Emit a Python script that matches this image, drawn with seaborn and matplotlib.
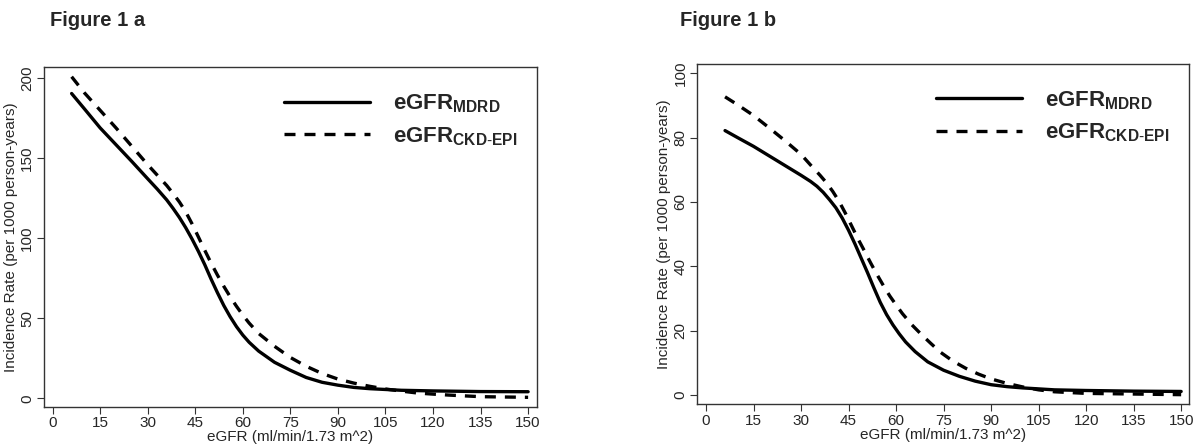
import numpy as np
import pandas as pd
import seaborn as sns
import matplotlib.pyplot as plt

# Figure 1 a
egfr_a_mdrd = [6, 10, 15, 20, 25, 30, 33, 36, 38, 40, 42, 44, 46, 48, 50, 52, 54, 56, 58, 60,
               62, 65, 70, 75, 80, 85, 90, 95, 100, 110, 120, 135, 150]
rate_a_mdrd = [190.5, 181, 169, 158.5, 148, 137.2, 130.8, 124, 118.7, 113, 106.6, 99.5, 91.8, 83.5, 74.5, 66, 58, 51, 44.8, 39.5,
               35, 29.5, 22.5, 17.5, 13, 10, 8.2, 6.8, 6.0, 5.0, 4.6, 4.2, 4.1]

egfr_a_ckd = [6, 10, 15, 20, 25, 30, 33, 36, 38, 40, 42, 44, 46, 48, 50, 52, 54, 56, 58, 60,
              62, 65, 70, 75, 80, 85, 90, 95, 100, 105, 110, 115, 120, 125, 135, 150]
rate_a_ckd = [201, 191, 180, 169, 157.5, 146, 139.5, 133, 128, 122.7, 116.5, 109, 100.8, 92.5, 84.5, 77, 70, 63.5, 57.5, 52,
              47, 40.5, 32.5, 25.5, 20, 15.5, 12, 9.5, 7.5, 5.8, 4.5, 3.3, 2.6, 2.0, 1.0, 0.6]

# Figure 1 b
egfr_b_mdrd = [6, 10, 15, 20, 25, 30, 33, 35, 37, 39, 41, 43, 45, 47, 49, 51, 53, 55, 57, 59,
               61, 63, 66, 70, 75, 80, 85, 90, 95, 100, 110, 120, 135, 150]
rate_b_mdrd = [82.2, 80, 77.3, 74.3, 71.3, 68.3, 66.4, 64.9, 63.0, 60.7, 58.2, 55.0, 51.2, 47.0, 42.5, 38.0, 33.3, 28.8, 25.0, 21.8,
               19.0, 16.5, 13.5, 10.3, 7.7, 5.8, 4.3, 3.2, 2.6, 2.2, 1.6, 1.4, 1.2, 1.1]

egfr_b_ckd = [6, 10, 15, 20, 25, 30, 33, 36, 38, 40, 42, 44, 46, 48, 50, 52, 54, 56, 58, 60,
              62, 65, 68, 71, 74, 78, 82, 86, 90, 95, 100, 105, 110, 120, 135, 150]
rate_b_ckd = [92.7, 90.2, 86.9, 83, 79, 74.8, 71.5, 68.3, 66.0, 63.3, 60.2, 56.5, 52.5, 48.5, 44.8, 41.0, 37.4, 34.0, 30.8, 28.0,
              25.3, 21.8, 18.8, 16.0, 13.3, 10.5, 8.3, 6.5, 5.0, 3.6, 2.5, 1.6, 1.0, 0.5, 0.3, 0.1]

x_ticks = [0, 15, 30, 45, 60, 75, 90, 105, 120, 135, 150]
y_ticks_a = [0, 50, 100, 150, 200]
y_ticks_b = [0, 20, 40, 60, 80, 100]

sns.set_style("ticks")
plt.rcParams['font.family'] = ['Liberation Sans', 'DejaVu Sans']
plt.rcParams['mathtext.fontset'] = 'custom'
plt.rcParams['mathtext.rm'] = 'Liberation Sans'
plt.rcParams['mathtext.bf'] = 'Liberation Sans:bold'

lab_mdrd = r'$\mathbf{eGFR}_{\mathbf{MDRD}}$'
lab_ckd = r'$\mathbf{eGFR}_{\mathbf{CKD}\text{-}\mathbf{EPI}}$'


def make_df(x1, y1, x2, y2):
    d1 = pd.DataFrame({'eGFR': x1, 'rate': y1, 'eq': 'MDRD'})
    d2 = pd.DataFrame({'eGFR': x2, 'rate': y2, 'eq': 'CKD-EPI'})
    return pd.concat([d1, d2], ignore_index=True)


df_a = make_df(egfr_a_mdrd, rate_a_mdrd, egfr_a_ckd, rate_a_ckd)
df_b = make_df(egfr_b_mdrd, rate_b_mdrd, egfr_b_ckd, rate_b_ckd)

fig = plt.figure(figsize=(12, 4.47), dpi=100)
ax_a = fig.add_axes([0.0367, 0.0902, 0.4108, 0.7593])
ax_b = fig.add_axes([0.5811, 0.0962, 0.4098, 0.7606])

panels = [
    (ax_a, df_a, y_ticks_a, (-5.25, 206.9), (-2.7, 152.8), "Figure 1 a", 0.042),
    (ax_b, df_b, y_ticks_b, (-2.8, 102.9), (-2.75, 152.5), "Figure 1 b", 0.567),
]

for ax, df, yt, ylim, xlim, title, tx in panels:
    sns.lineplot(
        data=df, x='eGFR', y='rate', style='eq',
        style_order=['MDRD', 'CKD-EPI'],
        dashes={'MDRD': '', 'CKD-EPI': (3.3, 2.7)},
        color='black', linewidth=2.4, ax=ax, legend=False, sort=False
    )
    ax.set_xlim(*xlim)
    ax.set_ylim(*ylim)
    ax.set_xticks(x_ticks)
    ax.set_yticks(yt)
    ax.tick_params(axis='both', direction='out', length=5, width=0.8,
                   color='#333333', labelsize=11, pad=2)
    ax.tick_params(axis='y', labelrotation=90)
    for lbl in ax.get_yticklabels():
        lbl.set_va('center')
    for sp in ax.spines.values():
        sp.set_visible(True)
        sp.set_color('#333333')
        sp.set_linewidth(1.0)
    ax.set_xlabel("eGFR (ml/min/1.73 m^2)", fontsize=11, labelpad=0)
    ax.set_ylabel("Incidence Rate (per 1000 person-years)", fontsize=11, labelpad=2)

    # legend keys drawn as long line segments, like the original
    h1, = ax.plot([], [], color='black', lw=2.4)
    h2, = ax.plot([], [], color='black', lw=2.4, dashes=(3.3, 2.7))
    ax.legend([h1, h2], [lab_mdrd, lab_ckd], loc='upper right',
              bbox_to_anchor=(1.0, 0.985), frameon=False, fontsize=16,
              handlelength=3.9, handletextpad=1.0, labelspacing=0.45)

    fig.text(tx, 0.955, title, fontsize=14.5, fontweight='bold', va='center', ha='left')

fig.savefig("out.png", dpi=100)
plt.close()
